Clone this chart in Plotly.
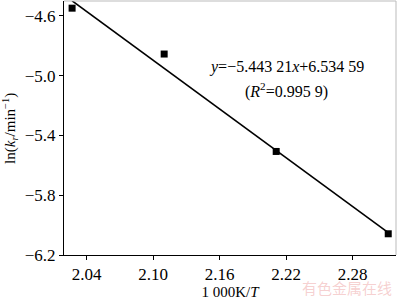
import plotly.graph_objects as go

# Data
inv_T = [2.027, 2.110, 2.211, 2.312]          # 1000 K / T
ln_k = [-4.548, -4.855, -5.507, -6.058]        # ln(k_r / min^-1)
slope = -5.44321
intercept = 6.53459
x_ticks = [2.04, 2.10, 2.16, 2.22, 2.28]
x_tick_labels = ["2.04", "2.10", "2.16", "2.22", "2.28"]
y_ticks = [-4.6, -5.0, -5.4, -5.8, -6.2]
y_tick_labels = ["−4.6", "−5.0", "−5.4", "−5.8", "−6.2"]

fit_x = [min(inv_T), max(inv_T)]
fit_y = [slope * v + intercept for v in fit_x]

FONT = "Liberation Serif"

fig = go.Figure()
fig.add_trace(go.Scatter(x=fit_x, y=fit_y, mode="lines",
                         line=dict(color="black", width=1.6),
                         hoverinfo="skip", showlegend=False, cliponaxis=True))
fig.add_trace(go.Scatter(x=inv_T, y=ln_k, mode="markers",
                         marker=dict(symbol="square", size=7, color="black"),
                         showlegend=False, cliponaxis=False))

fig.update_layout(
    width=400, height=300,
    margin=dict(l=64, r=4, t=1, b=42),
    paper_bgcolor="white", plot_bgcolor="white",
    font=dict(family=FONT, size=17, color="black"),
    xaxis=dict(range=[2.0197, 2.319], tickvals=x_ticks, ticktext=x_tick_labels,
               ticks="outside", ticklen=4, tickwidth=1, tickcolor="black",
               tickfont=dict(family=FONT, size=17),
               showline=True, linecolor="black", linewidth=1,
               showgrid=False, zeroline=False,
               title=dict(text="1 000K/<i>T</i>", standoff=4,
                          font=dict(family=FONT, size=15))),
    yaxis=dict(range=[-6.2, -4.5], tickvals=y_ticks, ticktext=y_tick_labels,
               ticks="outside", ticklen=4, tickwidth=1, tickcolor="black",
               tickfont=dict(family=FONT, size=17),
               showline=True, linecolor="black", linewidth=1,
               showgrid=False, zeroline=False),
    shapes=[
        dict(type="line", xref="paper", yref="paper", x0=0, x1=1, y0=1, y1=1,
             line=dict(color="#bbbbbb", width=1)),
        dict(type="line", xref="paper", yref="paper", x0=1, x1=1, y0=0, y1=1,
             line=dict(color="#bbbbbb", width=1)),
    ],
)

fig.add_annotation(x=-0.163, y=0.5, xref="paper", yref="paper", showarrow=False,
                   textangle=-90, xanchor="center", yanchor="middle",
                   text="ln(<i>k</i><sub><i>r</i></sub>/min<sup>−1</sup>)",
                   font=dict(family=FONT, size=15, color="black"))
fig.add_annotation(x=0.669, y=0.695, xref="paper", yref="paper", showarrow=False,
                   xanchor="center", yanchor="bottom",
                   text="<i>y</i>=−5.443 21<i>x</i>+6.534 59",
                   font=dict(family=FONT, size=16, color="black"))
fig.add_annotation(x=0.669, y=0.695, xref="paper", yref="paper", showarrow=False,
                   xanchor="center", yanchor="top",
                   text="(<i>R</i><sup>2</sup>=0.995 9)",
                   font=dict(family=FONT, size=16, color="black"))
fig.add_annotation(x=0.995, y=-0.128, xref="paper", yref="paper", showarrow=False,
                   xanchor="right", yanchor="middle",
                   text="有色金属在线",
                   font=dict(family="Noto Sans CJK SC", size=15, color="rgba(235,150,150,0.45)"))

fig.write_html("out.html")
